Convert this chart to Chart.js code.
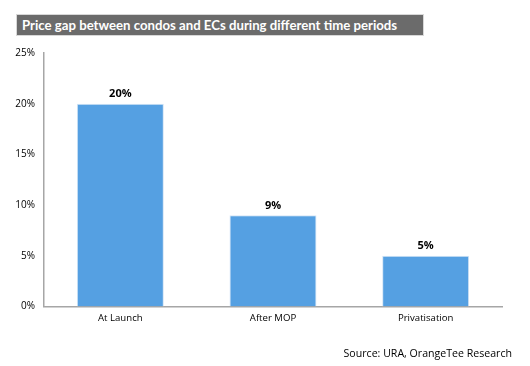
<!DOCTYPE html>
<html>
<head>
<meta charset="utf-8">
<script src="https://cdn.jsdelivr.net/npm/chart.js@4"></script>
<style>
    html, body { margin: 0; padding: 0; background: #fff; }
    #wrap { position: relative; width: 530px; height: 366px; }
    #title {
        position: absolute; left: 16px; top: 14px; width: 408px; height: 22px;
        background: #6b6b6b; border: 1px solid #d8d8d8; box-sizing: border-box;
        color: #fff; font: bold 13.2px Lato, "DejaVu Sans", sans-serif;
        line-height: 20px; padding-left: 5px; white-space: nowrap;
    }
    #source {
        position: absolute; right: 18px; top: 346px;
        font: 10.6px "Open Sans", sans-serif; color: #000;
    }
    canvas { position: absolute; left: 0; top: 0; }
</style>
</head>
<body>
<div id="wrap">
    <canvas id="chart" width="530" height="366"></canvas>
    <div id="title">Price gap between condos and ECs during different time periods</div>
    <div id="source">Source: URA, OrangeTee Research</div>
</div>
<script>
// chart data
const categories = ['At Launch', 'After MOP', 'Privatisation'];
const gapValues = [20, 9, 5];
const yTicks = [0, 5, 10, 15, 20, 25];

// draws the % label above each bar
const valueLabels = {
    id: 'valueLabels',
    afterDatasetsDraw(chart) {
        const ctx = chart.ctx;
        const meta = chart.getDatasetMeta(0);
        ctx.save();
        ctx.font = 'bold 11px "Open Sans", sans-serif';
        ctx.fillStyle = '#000';
        ctx.textAlign = 'center';
        ctx.textBaseline = 'bottom';
        meta.data.forEach((bar, i) => {
            ctx.fillText(gapValues[i] + '%', bar.x, bar.y - 4);
        });
        ctx.restore();
    }
};

const ctx = document.getElementById('chart').getContext('2d');
const chart = new Chart(ctx, {
    type: 'bar',
    data: {
        labels: categories,
        datasets: [{
            data: gapValues,
            backgroundColor: '#55a0e2',
            borderColor: '#d4e5f6',
            borderWidth: 1,
            borderSkipped: 'bottom',
            barPercentage: 0.57,
            categoryPercentage: 1
        }]
    },
    options: {
        responsive: false,
        animation: false,
        layout: { padding: { top: 53, right: 28, bottom: 36, left: 0 } },
        plugins: {
            legend: { display: false },
            tooltip: { enabled: false }
        },
        scales: {
            y: {
                min: 0,
                max: 25,
                afterBuildTicks: (scale) => { scale.ticks = yTicks.map(v => ({ value: v })); },
                afterFit: (scale) => { scale.width = 44; },
                grid: { display: false, drawTicks: false },
                border: { display: true, color: '#a6a6a6', width: 1.5 },
                ticks: {
                    padding: 9,
                    color: '#000',
                    font: { family: '"Open Sans", sans-serif', size: 10 },
                    callback: v => v + '%'
                }
            },
            x: {
                grid: { display: false, drawTicks: false },
                border: { display: true, color: '#a6a6a6', width: 1.5 },
                ticks: {
                    padding: 6,
                    color: '#000',
                    font: { family: '"Open Sans", sans-serif', size: 9.6 }
                }
            }
        }
    },
    plugins: [valueLabels]
});
</script>
</body>
</html>
